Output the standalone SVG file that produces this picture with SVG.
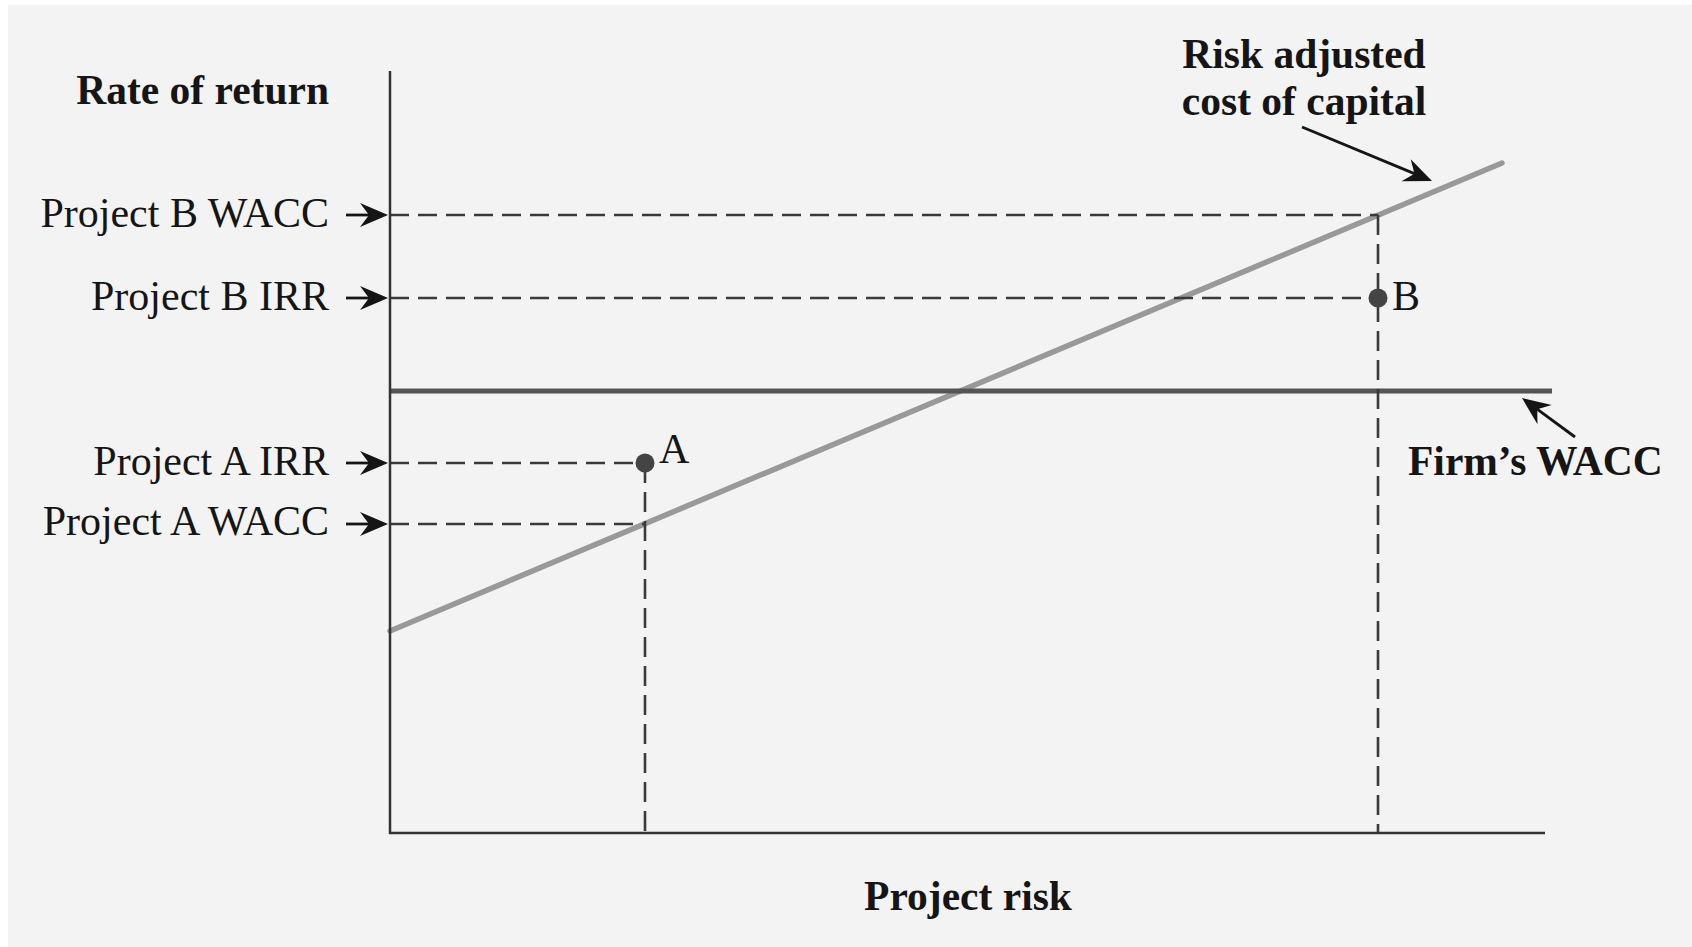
<svg xmlns="http://www.w3.org/2000/svg" xmlns:xlink="http://www.w3.org/1999/xlink" width="1692" height="947" viewBox="0 0 1692 947">
  <style>
    .t { font-family: "Liberation Serif", "Times New Roman", serif; font-size: 42px; fill: #151515; }
    .b { font-weight: bold; font-size: 41.5px; }
    .axis { stroke: #333; stroke-width: 2.5; fill: none; }
    .dash { stroke: #3a3a3a; stroke-width: 2.6; fill: none; stroke-dasharray: 19 9; }
    .vdash { stroke: #3a3a3a; stroke-width: 2.6; fill: none; stroke-dasharray: 20 9; }
    .arr { stroke: #151515; stroke-width: 2.8; fill: none; }
    .head { fill: #151515; }
    .dot { fill: #444; }
  </style>
  <defs>
    <path id="ah" d="M0,0 L-28,-12 L-19,0 L-28,12 Z"/>
  </defs>
  <rect x="0" y="0" width="1692" height="947" fill="#ffffff"/>
  <rect x="8" y="5" width="1684" height="942" fill="#f3f3f3"/>

  <g id="lines">
    <line id="risk-line" x1="390" y1="631" x2="1502" y2="163" stroke="#999" stroke-width="5.5" stroke-linecap="round"/>
    <line id="firm-wacc-line" x1="390" y1="391" x2="1552" y2="391" stroke="#555" stroke-width="5"/>
  </g>

  <g id="connectors">
    <line class="dash" x1="390" y1="215" x2="1378" y2="215"/>
    <line class="dash" x1="390" y1="298" x2="1378" y2="298"/>
    <line class="dash" x1="390" y1="463" x2="645" y2="463"/>
    <line class="dash" x1="390" y1="524" x2="645" y2="524"/>
    <line class="vdash" x1="645" y1="463" x2="645" y2="833"/>
    <line class="vdash" x1="1378" y1="215" x2="1378" y2="833"/>

    <line class="arr" x1="346" y1="215" x2="375" y2="215"/>
    <use href="#ah" class="head" transform="translate(388,215)"/>
    <line class="arr" x1="346" y1="298" x2="375" y2="298"/>
    <use href="#ah" class="head" transform="translate(388,298)"/>
    <line class="arr" x1="346" y1="463" x2="375" y2="463"/>
    <use href="#ah" class="head" transform="translate(388,463)"/>
    <line class="arr" x1="346" y1="524" x2="375" y2="524"/>
    <use href="#ah" class="head" transform="translate(388,524)"/>

    <line class="arr" x1="1302" y1="127" x2="1421" y2="176.4"/>
    <use href="#ah" class="head" transform="translate(1432,181) rotate(22.56)"/>
    <line class="arr" x1="1575" y1="437" x2="1531.7" y2="405.1"/>
    <use href="#ah" class="head" transform="translate(1522,398) rotate(216.35)"/>
  </g>

  <g id="axes">
    <line class="axis" x1="390" y1="71" x2="390" y2="834"/>
    <line class="axis" x1="389" y1="833" x2="1545" y2="833"/>
  </g>

  <g id="point-A">
    <circle class="dot" cx="645" cy="463" r="9.5"/>
    <text class="t" x="659" y="463">A</text>
  </g>
  <g id="point-B">
    <circle class="dot" cx="1378" cy="298" r="9.5"/>
    <text class="t" x="1392" y="310">B</text>
  </g>

  <g id="label-rate">
    <text class="t b" x="329" y="104" text-anchor="end">Rate of return</text>
  </g>
  <g id="label-b-wacc">
    <text class="t" x="329" y="227" text-anchor="end">Project B WACC</text>
  </g>
  <g id="label-b-irr">
    <text class="t" x="329" y="310" text-anchor="end">Project B IRR</text>
  </g>
  <g id="label-a-irr">
    <text class="t" x="329" y="475" text-anchor="end">Project A IRR</text>
  </g>
  <g id="label-a-wacc">
    <text class="t" x="329" y="535" text-anchor="end">Project A WACC</text>
  </g>
  <g id="label-risk-adjusted">
    <text class="t b" x="1304" y="68" text-anchor="middle">Risk adjusted</text>
    <text class="t b" x="1304" y="115" text-anchor="middle">cost of capital</text>
  </g>
  <g id="label-firm-wacc">
    <text class="t b" x="1408" y="475">Firm’s WACC</text>
  </g>
  <g id="label-project-risk">
    <text class="t b" x="968" y="910" text-anchor="middle">Project risk</text>
  </g>
</svg>
